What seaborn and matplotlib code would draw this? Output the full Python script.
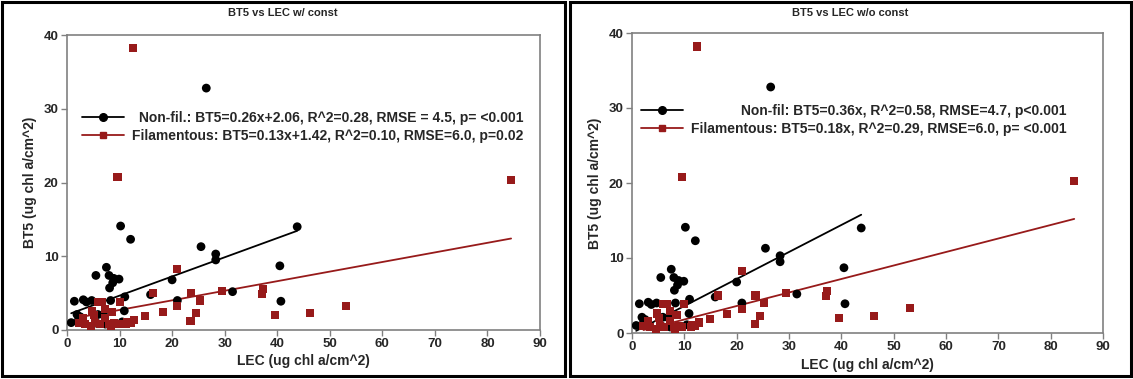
import numpy as np
import pandas as pd
import matplotlib
matplotlib.use("Agg")
import matplotlib.pyplot as plt
from matplotlib.lines import Line2D
from matplotlib.patches import Rectangle
import seaborn as sns

# ---------------- data ----------------
nonfil_lec = [26.5, 10.2, 12.1, 25.5, 28.3, 28.3, 43.8, 40.5, 40.7, 7.5, 5.5, 8.0,
              8.9, 9.9, 8.7, 8.1, 20.0, 15.9, 31.5, 21.0, 11.0, 8.3, 10.9, 1.4,
              3.1, 3.7, 4.7, 1.9, 2.5, 5.9, 7.0, 0.8, 5.7, 7.3, 10.5, 2.2]
nonfil_bt5 = [32.8, 14.1, 12.3, 11.3, 10.3, 9.5, 14.0, 8.7, 3.9, 8.5, 7.4, 7.4,
              7.0, 6.9, 6.4, 5.7, 6.8, 4.8, 5.2, 4.0, 4.5, 4.0, 2.6, 3.9,
              4.1, 3.8, 4.0, 2.1, 1.8, 2.1, 2.0, 1.0, 0.9, 0.8, 1.1, 1.4]

fil_lec = [12.5, 84.5, 9.6, 37.3, 37.1, 39.5, 46.3, 53.1, 21.0, 16.4, 23.6, 25.3,
           24.5, 23.5, 21.0, 29.5, 18.2, 14.9, 6.0, 6.7, 10.0, 4.7, 7.2, 8.5,
           5.2, 3.0, 7.3, 12.8, 11.5, 2.2, 3.5, 5.4, 6.2, 8.0, 8.9, 9.6,
           11.2, 12.1, 8.3, 4.5]
fil_bt5 = [38.2, 20.3, 20.8, 5.6, 4.9, 2.0, 2.3, 3.3, 8.3, 5.0, 5.0, 4.0,
           2.3, 1.2, 3.2, 5.3, 2.5, 1.9, 3.85, 3.85, 3.85, 2.6, 2.9, 2.4,
           2.0, 1.6, 1.6, 1.4, 1.1, 0.9, 0.8, 0.9, 0.8, 0.8, 0.9, 0.8,
           0.8, 1.0, 0.5, 0.5]

panel_titles = ["BT5 vs LEC w/ const", "BT5 vs LEC w/o const"]
# regression coefficients (slope, intercept) per panel
nonfil_fit = [(0.26, 2.06), (0.36, 0.0)]
fil_fit = [(0.13, 1.42), (0.18, 0.0)]
nonfil_labels = ["Non-fil.: BT5=0.26x+2.06, R^2=0.28, RMSE = 4.5, p= <0.001",
                 "Non-fil: BT5=0.36x, R^2=0.58, RMSE=4.7, p<0.001"]
fil_labels = ["Filamentous: BT5=0.13x+1.42, R^2=0.10, RMSE=6.0, p=0.02",
              "Filamentous: BT5=0.18x, R^2=0.29, RMSE=6.0, p= <0.001"]
x_ticks = [0, 10, 20, 30, 40, 50, 60, 70, 80, 90]
y_ticks = [0, 10, 20, 30, 40]
x_label = "LEC (ug chl a/cm^2)"
y_label = "BT5 (ug chl a/cm^2)"

# ---------------- style ----------------
sns.set_style("white")
plt.rcParams["font.family"] = ["Liberation Sans", "DejaVu Sans"]
plt.rcParams["font.weight"] = "bold"

BLACK = "#000000"
RED = "#971a1a"
GRAY = "#808080"

nonfil = pd.DataFrame({"LEC": nonfil_lec, "BT5": nonfil_bt5})
fil = pd.DataFrame({"LEC": fil_lec, "BT5": fil_bt5})

fig = plt.figure(figsize=(11.33, 3.79), dpi=100)
W, H = 1133, 379

def fx(px):
    return px / W

def fy(py):
    return 1 - py / H

# panel frames
for (x0, x1) in [(2, 565), (570, 1131)]:
    fig.patches.append(Rectangle((fx(x0), fy(376)), fx(x1) - fx(x0), fy(2) - fy(376),
                                 transform=fig.transFigure, fill=False,
                                 edgecolor="black", linewidth=2.2, zorder=0))

axes_px = [(67, 540, 35, 330), (632, 1103, 33, 333)]
legend_anchor = [(82, 111), (641, 104)]
title_x = [283, 850]

for i, (l, r, t, b) in enumerate(axes_px):
    ax = fig.add_axes([fx(l), fy(b), fx(r) - fx(l), fy(t) - fy(b)])
    # fitted lines
    for df, fit, col in [(nonfil, nonfil_fit[i], BLACK), (fil, fil_fit[i], RED)]:
        xs = np.array([df["LEC"].min(), df["LEC"].max()])
        ys = fit[0] * xs + fit[1]
        sns.lineplot(x=xs, y=ys, ax=ax, color=col, linewidth=1.3, zorder=2,
                     legend=False)
    sns.scatterplot(data=nonfil, x="LEC", y="BT5", ax=ax, color=BLACK, marker="o",
                    s=40, edgecolor="none", zorder=3, legend=False)
    sns.scatterplot(data=fil, x="LEC", y="BT5", ax=ax, color=RED, marker="s",
                    s=34, edgecolor="none", zorder=3, legend=False)
    ax.set_xlim(0, 90)
    ax.set_ylim(0, 40)
    ax.set_xticks(x_ticks)
    ax.set_yticks(y_ticks)
    ax.set_xticklabels([str(v) for v in x_ticks], fontsize=9.5, fontweight="bold")
    ax.set_yticklabels([str(v) for v in y_ticks], fontsize=9.5, fontweight="bold")
    ax.tick_params(axis="both", direction="out", length=4, width=1, color=GRAY,
                   pad=2, bottom=True, left=True)
    for sp in ax.spines.values():
        sp.set_color(GRAY)
        sp.set_linewidth(1.2)
        sp.set_visible(True)
    ax.set_xlabel(x_label, fontsize=10, fontweight="bold", labelpad=3)
    ax.set_ylabel(y_label, fontsize=10, fontweight="bold", labelpad=5)
    fig.text(fx(title_x[i]), fy(13), panel_titles[i], ha="center", va="center",
             fontsize=8, fontweight="bold")

    handles = [Line2D([], [], color=BLACK, marker="o", markersize=5.5, linewidth=1.3),
               Line2D([], [], color=RED, marker="s", markersize=5, linewidth=1.3)]
    leg = ax.legend(handles, [nonfil_labels[i], fil_labels[i]], loc="upper left",
                    bbox_to_anchor=(fx(legend_anchor[i][0]), fy(legend_anchor[i][1])),
                    bbox_transform=fig.transFigure, frameon=False, borderpad=0,
                    borderaxespad=0, handlelength=3.0, handletextpad=0.6,
                    labelspacing=0.3, prop={"size": 10, "weight": "bold"})
    fig.canvas.draw()
    widths = [tx.get_window_extent().width for tx in leg.get_texts()]
    maxw = max(widths)
    col_box = leg._legend_handle_box.get_children()[0]
    for item, w in zip(col_box.get_children(), widths):
        item.sep = item.sep + (maxw - w) * 72.0 / fig.dpi

fig.savefig("out.png", dpi=100)
